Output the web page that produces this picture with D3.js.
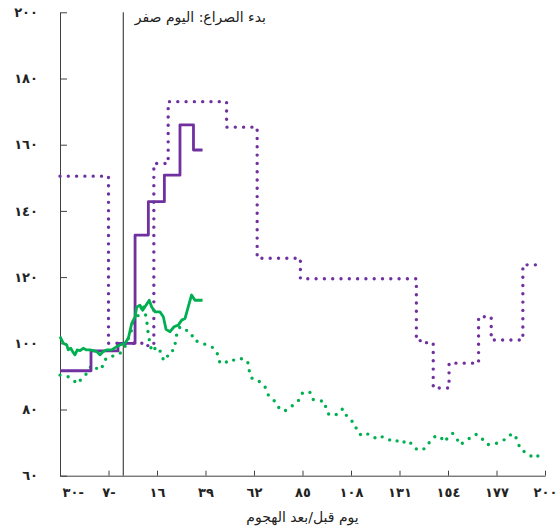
<!DOCTYPE html>
<html><head><meta charset="utf-8">
<script src="https://cdn.jsdelivr.net/npm/d3@7"></script>
<style>body{margin:0;background:#fff}svg{display:block}</style>
</head><body>
<svg id="c" width="560" height="531"></svg>
<script>
// ---- data ----
const xTickValues = [-30, -7, 16, 39, 62, 85, 108, 131, 154, 177, 200];
const xTickLabels = ["٣٠-", "٧-", "١٦", "٣٩", "٦٢", "٨٥", "١٠٨", "١٣١", "١٥٤", "١٧٧", "٢٠٠"];
const yTickValues = [60, 80, 100, 120, 140, 160, 180, 200];
const yTickLabels = ["٦٠", "٨٠", "١٠٠", "١٢٠", "١٤٠", "١٦٠", "١٨٠", "٢٠٠"];
const xTitle = "يوم قبل/بعد الهجوم";
const zeroLabel = "بدء الصراع: اليوم صفر";

const purpleSolidDays = [-30, -15.3, -2.5, 5.6, 11.9, 19.5, 26.9, 33.3, 37.6];
const purpleSolidVals = [91.7, 97.7, 100, 132.7, 142.8, 150.8, 166, 158.4, 158.4];

const purpleDotDays = [-30, -7, 10, 14.5, 21.3, 49, 63.5, 84, 139, 143, 147, 154.5, 168.5, 174.5, 189.5, 198];
const purpleDotVals = [150.5, 100, 99.3, 154.3, 173, 165.3, 125.7, 119.5, 100.8, 100.2, 86.5, 94, 108, 101, 123.7, 123.7];

const greenSolidDays = [-30,-28.4,-26.8,-26.1,-24.9,-24,-22.9,-21.8,-20.5,-19,-17.4,-15.8,-14.2,-12.6,-11,-9.5,-7.9,-5.5,-3.1,-1.5,0.8,2.4,4,5.6,6.4,7.9,9.2,10.8,12.3,13.5,15,17.4,19,20.3,22.2,24.1,26.1,27.7,29.3,32.4,34,37.6];
const greenSolidVals = [102,100,99.5,98,98.5,97.5,96.5,98,97.8,98.5,98,98,97.8,97.5,96.5,97.5,98,98,99,99.5,100,101.5,106,108,111,111.5,110,111.5,113,111,109.5,109.5,108,104.2,103.5,105,105.5,107,107.5,114.6,113,113];

const greenDotDays = [-30,-26.1,-23.7,-21.8,-19.7,-17.3,-15,-12.6,-10.2,-9.5,-7.1,-3.9,-1.5,0.8,4,5.6,7.1,9.5,11.1,11.9,13.5,15.9,18.2,19,20.6,21.4,24.1,25.3,26.9,28.5,32.4,33.2,35.6,39.6,41.9,44.3,45.9,48.2,50.6,53.8,56.6,59.3,60.1,62.5,64.8,67.2,68.8,70.4,72.7,74.3,76.7,79,81.4,83.8,85.1,88.5,89.6,93,95.7,96.1,97.7,101.2,102.8,104.3,105.9,108.3,109.4,111.4,112.7,115.7,117.8,120.2,123,126.1,129.3,130.7,132.8,135.6,137.5,140.4,143.4,144.6,146.2,147.8,150.7,151.7,153.8,156.2,158.1,159.7,162,164.7,166.9,168.8,170.7,172.6,176.3,179.4,182.3,184.2,186.2,187.3,188.9,192,194.4,196.8];
const greenDotVals = [90.4,89.9,88.9,87.7,89.4,90.9,93.4,92.4,92.1,94.4,96,96.2,97,99,104,106.5,108.5,112,107,102.5,97.5,99,97,95,95,97.2,98,102.5,105,104.5,103,101,100.5,99.5,99,97.5,94,94,95.2,94.7,95.5,94,90,88.7,88.4,86.9,84.4,83.4,81.9,79.9,79.6,80.4,81.9,83.1,85.2,85.2,83.1,82.7,82.3,80.1,78.3,78.5,79.8,80.2,78.1,76.8,74.8,74.1,72.1,72.6,72.3,71,71.8,70.8,71,69.8,70.1,70.6,68.6,67.6,68.3,69.6,70.8,71.8,71.8,70.2,71.3,72.8,71.3,69.3,70.4,71.5,72.5,72.2,70.8,69.4,69.6,70.5,71.3,72.8,71.6,69.6,67.6,66.8,65.3,66];

// ---- chart ----
const PURPLE = "#7030a0", GREEN = "#00b050";
const svg = d3.select("#c");
const x = d3.scaleLinear().domain([-30, 200]).range([60, 545]);
const y = d3.scaleLinear().domain([60, 200]).range([475.7, 12.3]);
const font = "'DejaVu Sans', sans-serif";

// axes
const xAxis = d3.axisBottom(x).tickValues(xTickValues)
  .tickFormat((d, i) => xTickLabels[i]).tickSizeInner(-5).tickSizeOuter(0).tickPadding(12);
const gx = svg.append("g").attr("transform", `translate(0,${y(60)})`).call(xAxis);
const yAxis = d3.axisLeft(y).tickValues(yTickValues)
  .tickFormat((d, i) => yTickLabels[i]).tickSizeInner(-7).tickSizeOuter(0).tickPadding(22);
const gy = svg.append("g").attr("transform", `translate(${x(-30)},0)`).call(yAxis);
[gx, gy].forEach(g => {
  g.selectAll("path,line").attr("stroke", "#404040").attr("stroke-width", 1);
  g.selectAll("text").attr("fill", "#222").style("font-family", font).style("font-size", "13px").style("font-weight", "bold");
});
gx.selectAll(".tick").filter(d => d === -30).select("text").attr("text-anchor", "start").attr("dx", 2);

// zero line
svg.append("line").attr("x1", x(0)).attr("x2", x(0)).attr("y1", y(200)).attr("y2", y(60))
  .attr("stroke", "#222").attr("stroke-width", 1);
svg.append("text").attr("x", x(0) + 11.5).attr("y", 22).attr("text-anchor", "start")
  .style("font-family", font).style("font-size", "14px").attr("fill", "#222").text(zeroLabel);

// x title
svg.append("text").attr("x", (x(-30) + x(200)) / 2).attr("y", 522).attr("text-anchor", "middle")
  .style("font-family", font).style("font-size", "14px").attr("fill", "#222").text(xTitle);

function series(days, vals, color, dotted, curve) {
  const data = days.map((d, i) => [d, vals[i]]);
  const line = d3.line().x(d => x(d[0])).y(d => y(d[1])).curve(curve);
  const p = svg.append("path").datum(data).attr("d", line).attr("fill", "none")
    .attr("stroke", color).attr("stroke-linejoin", "round");
  if (dotted) p.attr("stroke-width", 3.4).attr("stroke-linecap", "round").attr("stroke-dasharray", "0 8.3");
  else p.attr("stroke-width", 2.8);
}
series(purpleDotDays, purpleDotVals, PURPLE, true, d3.curveStepAfter);
series(greenDotDays, greenDotVals, GREEN, true, d3.curveLinear);
series(purpleSolidDays, purpleSolidVals, PURPLE, false, d3.curveStepAfter);
series(greenSolidDays, greenSolidVals, GREEN, false, d3.curveLinear);
</script>
</body></html>
